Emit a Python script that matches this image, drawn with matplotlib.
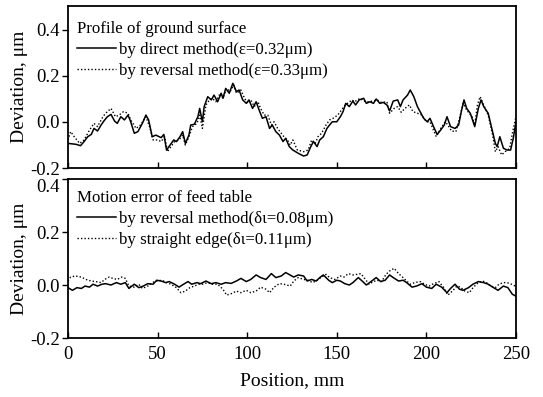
import numpy as np
import matplotlib
matplotlib.use("Agg")
import matplotlib.pyplot as plt
from matplotlib.lines import Line2D

plt.rcParams["font.family"] = ["Liberation Serif", "DejaVu Serif"]
plt.rcParams["axes.unicode_minus"] = False

# Profile of ground surface (position mm, deviation um)
prof_direct_x = [0, 4.5, 7, 9, 11, 13, 14.5, 16.5, 18.5, 20,
                 22, 24, 26, 27.5, 29.5, 31.5, 33.5, 35, 37, 39,
                 41.5, 43.5, 45, 47, 49, 52, 53.5, 55, 57, 59,
                 60.5, 62.5, 64, 65.5, 67.5, 68.5, 70.5, 72.5, 73.5, 75,
                 76, 78, 80, 81.5, 83.5, 85.5, 86.5, 88, 90, 92,
                 94, 95.5, 97.5, 99.5, 101, 103, 105, 107, 108.5, 110.5,
                 112.5, 114, 116, 118, 120, 121.5, 123.5,
                 125.5, 128.5, 131.5, 133.5, 135.5, 137, 139, 140.5, 142.5, 144.5,
                 146, 147.5, 150, 152, 153.5, 155, 157, 159, 160.5, 162.5,
                 165, 166.5, 168.5, 170.5, 172, 174, 176, 178, 179.5, 181.5,
                 184, 185.5, 187, 189.5, 191, 193, 195, 197, 198.5, 200.5,
                 202, 204, 206, 208, 210, 211.5, 213.5, 216, 218, 219.5,
                 221, 222.5, 224.5, 227, 229, 230.5, 232, 234.5, 236.5, 238.5,
                 239.5, 241, 243, 245, 247, 248.5, 250]
prof_direct_y = [-0.093, -0.097, -0.103, -0.085, -0.064, -0.054, -0.028, -0.039, -0.013, 0.004,
                 0.023, 0.033, 0.004, -0.006, 0.023, 0.009, 0.030, 0.001, -0.049, -0.042,
                 -0.006, 0.030, 0.009, -0.064, -0.057, -0.068, -0.054, -0.122, -0.100, -0.078,
                 -0.085, -0.064, -0.042, -0.093, -0.057, -0.013, -0.010, 0.023, 0.059, 0.001,
                 0.067, 0.110, 0.096, 0.117, 0.088, 0.125, 0.103, 0.146, 0.125, 0.168,
                 0.132, 0.139, 0.096, 0.081, 0.096, 0.059, 0.088, 0.045, 0.016, 0.023,
                 -0.028, -0.013, -0.042, -0.057, -0.085, -0.071, -0.107,
                 -0.122, -0.136, -0.148, -0.143, -0.107, -0.085, -0.107, -0.078, -0.064, -0.028,
                 -0.013, 0.001, 0.001, 0.023, 0.045, 0.081, 0.067, 0.091, 0.074, 0.096,
                 0.103, 0.081, 0.088, 0.081, 0.100, 0.081, 0.085, 0.074, 0.048, 0.091,
                 0.096, 0.067, 0.096, 0.117, 0.139, 0.110, 0.067, 0.038, 0.016, 0.001,
                 0.016, -0.020, -0.054, -0.035, -0.013, 0.023, -0.020, -0.028, -0.013, 0.045,
                 0.096, 0.059, 0.038, -0.020, 0.059, 0.096, 0.067, 0.038, -0.028, -0.093,
                 -0.107, -0.064, -0.114, -0.122, -0.122, -0.071, 0.001]

prof_reversal_x = [0, 1.5, 3.5, 6.5, 9, 12, 14.5, 16.5, 19.5, 21,
                   24, 26.5, 28.5, 31, 33.5, 35, 38, 40.5, 43.5, 45.5,
                   47.5, 50, 52, 54, 55.5, 57.5, 59.5, 62, 64, 65.5,
                   67.5, 69.5, 72, 73.5, 75, 77, 79, 80.5, 82.5, 85,
                   86.5, 88.5, 90.5, 92.5, 94, 96.5, 98.5, 100.5, 102, 104,
                   106, 107.5, 109.5, 111.5, 113.5, 115, 117, 119, 120.5, 122.5,
                   124, 125.5, 128, 131.5, 134, 136, 138, 139.5, 141.5, 144,
                   146, 148, 150.5, 152, 154, 156, 158.5, 160, 163, 165,
                   167.5, 170, 172.5, 175, 178, 179.5, 182, 184, 186, 188,
                   190.5, 192.5, 195, 197.5, 200, 202, 204, 205.5, 208, 210.5,
                   212, 214, 216.5, 218.5, 220.5, 222.5, 225.5, 227, 228.5, 230,
                   232, 234.5, 237, 238.5, 240, 242, 244, 246.5, 248, 250]
prof_reversal_y = [-0.078, -0.042, -0.064, -0.093, -0.078, -0.035, -0.006, -0.020, 0.023, 0.038,
                   0.059, 0.023, 0.030, 0.045, 0.038, 0.009, -0.028, -0.013, 0.023, -0.020,
                   -0.078, -0.078, -0.085, -0.064, -0.129, -0.107, -0.085, -0.078, -0.057, -0.100,
                   -0.064, -0.020, -0.006, 0.030, -0.028, 0.074, 0.096, 0.103, 0.088, 0.125,
                   0.103, 0.146, 0.132, 0.161, 0.125, 0.139, 0.103, 0.081, 0.096, 0.067,
                   0.088, 0.059, 0.030, 0.030, -0.013, 0.001, -0.028, -0.049, -0.064, -0.078,
                   -0.100, -0.078, -0.122, -0.129, -0.122, -0.078, -0.093, -0.064, -0.049, -0.013,
                   0.009, 0.016, 0.030, 0.045, 0.067, 0.081, 0.096, 0.088, 0.103, 0.091,
                   0.088, 0.091, 0.096, 0.085, 0.088, 0.038, 0.059, 0.067, 0.042, 0.059,
                   0.074, 0.045, 0.038, 0.030, 0.001, 0.001, -0.035, -0.064, -0.028, 0.001,
                   -0.013, -0.039, -0.042, 0.016, 0.081, 0.052, 0.023, -0.013, 0.074, 0.110,
                   0.074, 0.030, -0.057, -0.129, -0.107, -0.143, -0.129, -0.114, -0.049, 0.023]

# Motion error of feed table
motion_reversal_x = [0, 2.5, 5, 7.5, 9.5, 12, 14, 16.5, 19, 21,
                     24, 27, 29.5, 32, 34, 37, 39.5, 42, 44.5, 47.5,
                     49.5, 52, 54.5, 56.5, 59.5, 62, 64.5, 67, 69, 72,
                     74, 77, 80, 82.5, 85.5, 88, 91, 94, 96.5, 99.5,
                     102, 105, 107.5, 110.5, 113.5, 116, 119, 121.5,
                     126, 128.5, 131.5, 133.5, 136, 138.5, 140.5, 142.5, 145.5, 147.5,
                     150, 152, 154.5, 157, 159, 162, 164.5, 166.5, 169.5, 172,
                     174.5, 177, 179.5, 181.5, 184.5, 187, 189, 192, 194.5, 197.5,
                     200, 203, 205.5, 208.5, 211.5, 213.5, 216, 218.5, 220.5, 223.5,
                     226, 229, 232, 234.5, 237.5, 240, 243, 245.5, 248, 250]
motion_reversal_y = [-0.010, -0.020, -0.010, -0.013, -0.004, -0.008, 0.003, -0.004, 0.003, 0.005,
                     0.000, 0.009, 0.003, 0.009, -0.013, 0.003, -0.010, -0.004, 0.005, 0.003,
                     0.018, 0.015, 0.009, 0.013, 0.003, -0.008, 0.003, 0.013, 0.003, 0.009,
                     0.005, 0.015, 0.005, 0.009, 0.003, 0.009, 0.006, 0.015, 0.025, 0.013,
                     0.021, 0.038, 0.028, 0.021, 0.043, 0.028, 0.034, 0.047,
                     0.030, 0.038, 0.034, 0.015, 0.021, 0.015, 0.028, 0.038, 0.018, 0.009,
                     0.018, 0.015, 0.005, 0.000, 0.009, 0.028, 0.013, 0.000, 0.015, 0.028,
                     0.013, 0.018, 0.038, 0.028, 0.015, 0.018, 0.009, -0.008, -0.004, 0.005,
                     -0.008, -0.013, 0.003, -0.008, -0.029, -0.013, 0.003, -0.016, -0.020, -0.010,
                     0.003, 0.013, 0.009, 0.003, -0.010, -0.020, -0.004, -0.010, -0.035, -0.042]

motion_edge_x = [0, 1.5, 4, 7.5, 10, 13, 15.5, 18.5, 20.5, 23,
                 25, 27.5, 30, 32, 34, 37, 39.5, 41.5, 44.5, 47,
                 49.5, 52.5, 55, 57.5, 60.5, 63, 65.5, 68, 70.5, 73,
                 75, 78, 80.5, 83.5, 86.5, 88.5, 91, 94, 96.5, 99.5,
                 102, 105, 107.5, 110.5, 112.5, 115, 118, 120.5,
                 124, 126, 128.5, 131.5, 134, 136.5, 139, 141.5, 144, 146,
                 149, 152, 154, 156.5, 159, 161, 163.5, 166, 168, 170.5,
                 172.5, 175, 177.5, 179.5, 182, 184.5, 187, 189, 191, 193.5,
                 196.5, 199, 201.5, 204, 207, 209.5, 212, 214.5, 217, 219,
                 221.5, 224, 226, 229, 231.5, 233.5, 236, 238.5, 240.5, 243,
                 245, 247.5, 249.5]
motion_edge_y = [0.015, 0.030, 0.034, 0.030, 0.021, 0.015, 0.013, 0.009, 0.021, 0.030,
                 0.025, 0.021, 0.030, 0.025, -0.004, -0.008, 0.003, -0.013, -0.004, 0.009,
                 0.015, 0.018, 0.009, 0.003, -0.010, -0.029, -0.023, -0.010, -0.004, 0.003,
                 0.003, 0.009, 0.003, 0.003, -0.016, -0.038, -0.033, -0.023, -0.029, -0.020,
                 -0.029, -0.023, -0.008, -0.016, -0.029, -0.008, 0.005, 0.003,
                 -0.004, 0.015, 0.028, 0.021, 0.018, 0.009, 0.018, 0.030, 0.040, 0.028,
                 0.021, 0.034, 0.030, 0.043, 0.038, 0.040, 0.043, 0.021, 0.003, 0.013,
                 0.018, 0.013, 0.040, 0.053, 0.063, 0.043, 0.028, 0.015, 0.003, 0.009,
                 0.013, 0.003, -0.004, 0.005, 0.013, -0.008, -0.038, -0.023, -0.004, -0.008,
                 -0.023, -0.029, -0.010, 0.009, 0.015, 0.009, -0.004, -0.010, 0.003, 0.009,
                 0.009, 0.003, -0.004]

x_ticks = [0, 50, 100, 150, 200, 250]
y_ticks = [-0.2, 0.0, 0.2, 0.4]

fig = plt.figure(figsize=(5.43, 3.97), dpi=100)
ax1 = fig.add_axes([0.1252, 0.5768, 0.825, 0.408])
ax2 = fig.add_axes([0.1252, 0.1486, 0.825, 0.4005])

ax1.plot(prof_direct_x, prof_direct_y, color="black", lw=1.1)
ax1.plot(prof_reversal_x, prof_reversal_y, color="black", lw=1.0, ls=(0, (1, 1.5)))
ax2.plot(motion_reversal_x, motion_reversal_y, color="black", lw=1.1)
ax2.plot(motion_edge_x, motion_edge_y, color="black", lw=1.0, ls=(0, (1, 1.5)))

ax1.set_ylim(-0.2, 0.504)
ax2.set_ylim(-0.2, 0.4)

for ax in (ax1, ax2):
    ax.set_xlim(0, 250)
    ax.set_xticks(x_ticks)
    ax.set_yticks(y_ticks)
    ax.set_yticklabels(["%.1f" % v for v in y_ticks])
    ax.tick_params(axis="x", direction="in", length=4, width=1.0, labelsize=13.5, pad=6)
    ax.tick_params(axis="y", direction="out", length=4, width=1.0, labelsize=13.5, pad=2)
    for s in ax.spines.values():
        s.set_linewidth(1.3)
    ax.set_ylabel("Deviation, μm", fontsize=14, labelpad=1.5)

ax1.tick_params(axis="x", labelbottom=False)
ax2.set_xlabel("Position, mm", fontsize=14, labelpad=6)

# the 0.4 of the lower panel sits just under the -0.2 of the upper one
ax2.get_yticklabels()[-1].set_va("top")

solid = Line2D([], [], color="black", lw=1.1)
dotted = Line2D([], [], color="black", lw=1.0, ls=(0, (1, 1.5)))

leg_kw = dict(loc="upper left", frameon=False, alignment="left", fontsize=12.2,
              title_fontsize=12.2, handlelength=2.3, handletextpad=0.2,
              labelspacing=0.3, borderaxespad=0, borderpad=0)
ax1.legend([solid, dotted], ["by direct method(ε=0.32μm)", "by reversal method(ε=0.33μm)"],
           title="Profile of ground surface", bbox_to_anchor=(0.02, 0.91), **leg_kw)
ax2.legend([solid, dotted], ["by reversal method(δι=0.08μm)", "by straight edge(δι=0.11μm)"],
           title="Motion error of feed table", bbox_to_anchor=(0.02, 0.93), **leg_kw)

fig.savefig("out.png", dpi=100)
